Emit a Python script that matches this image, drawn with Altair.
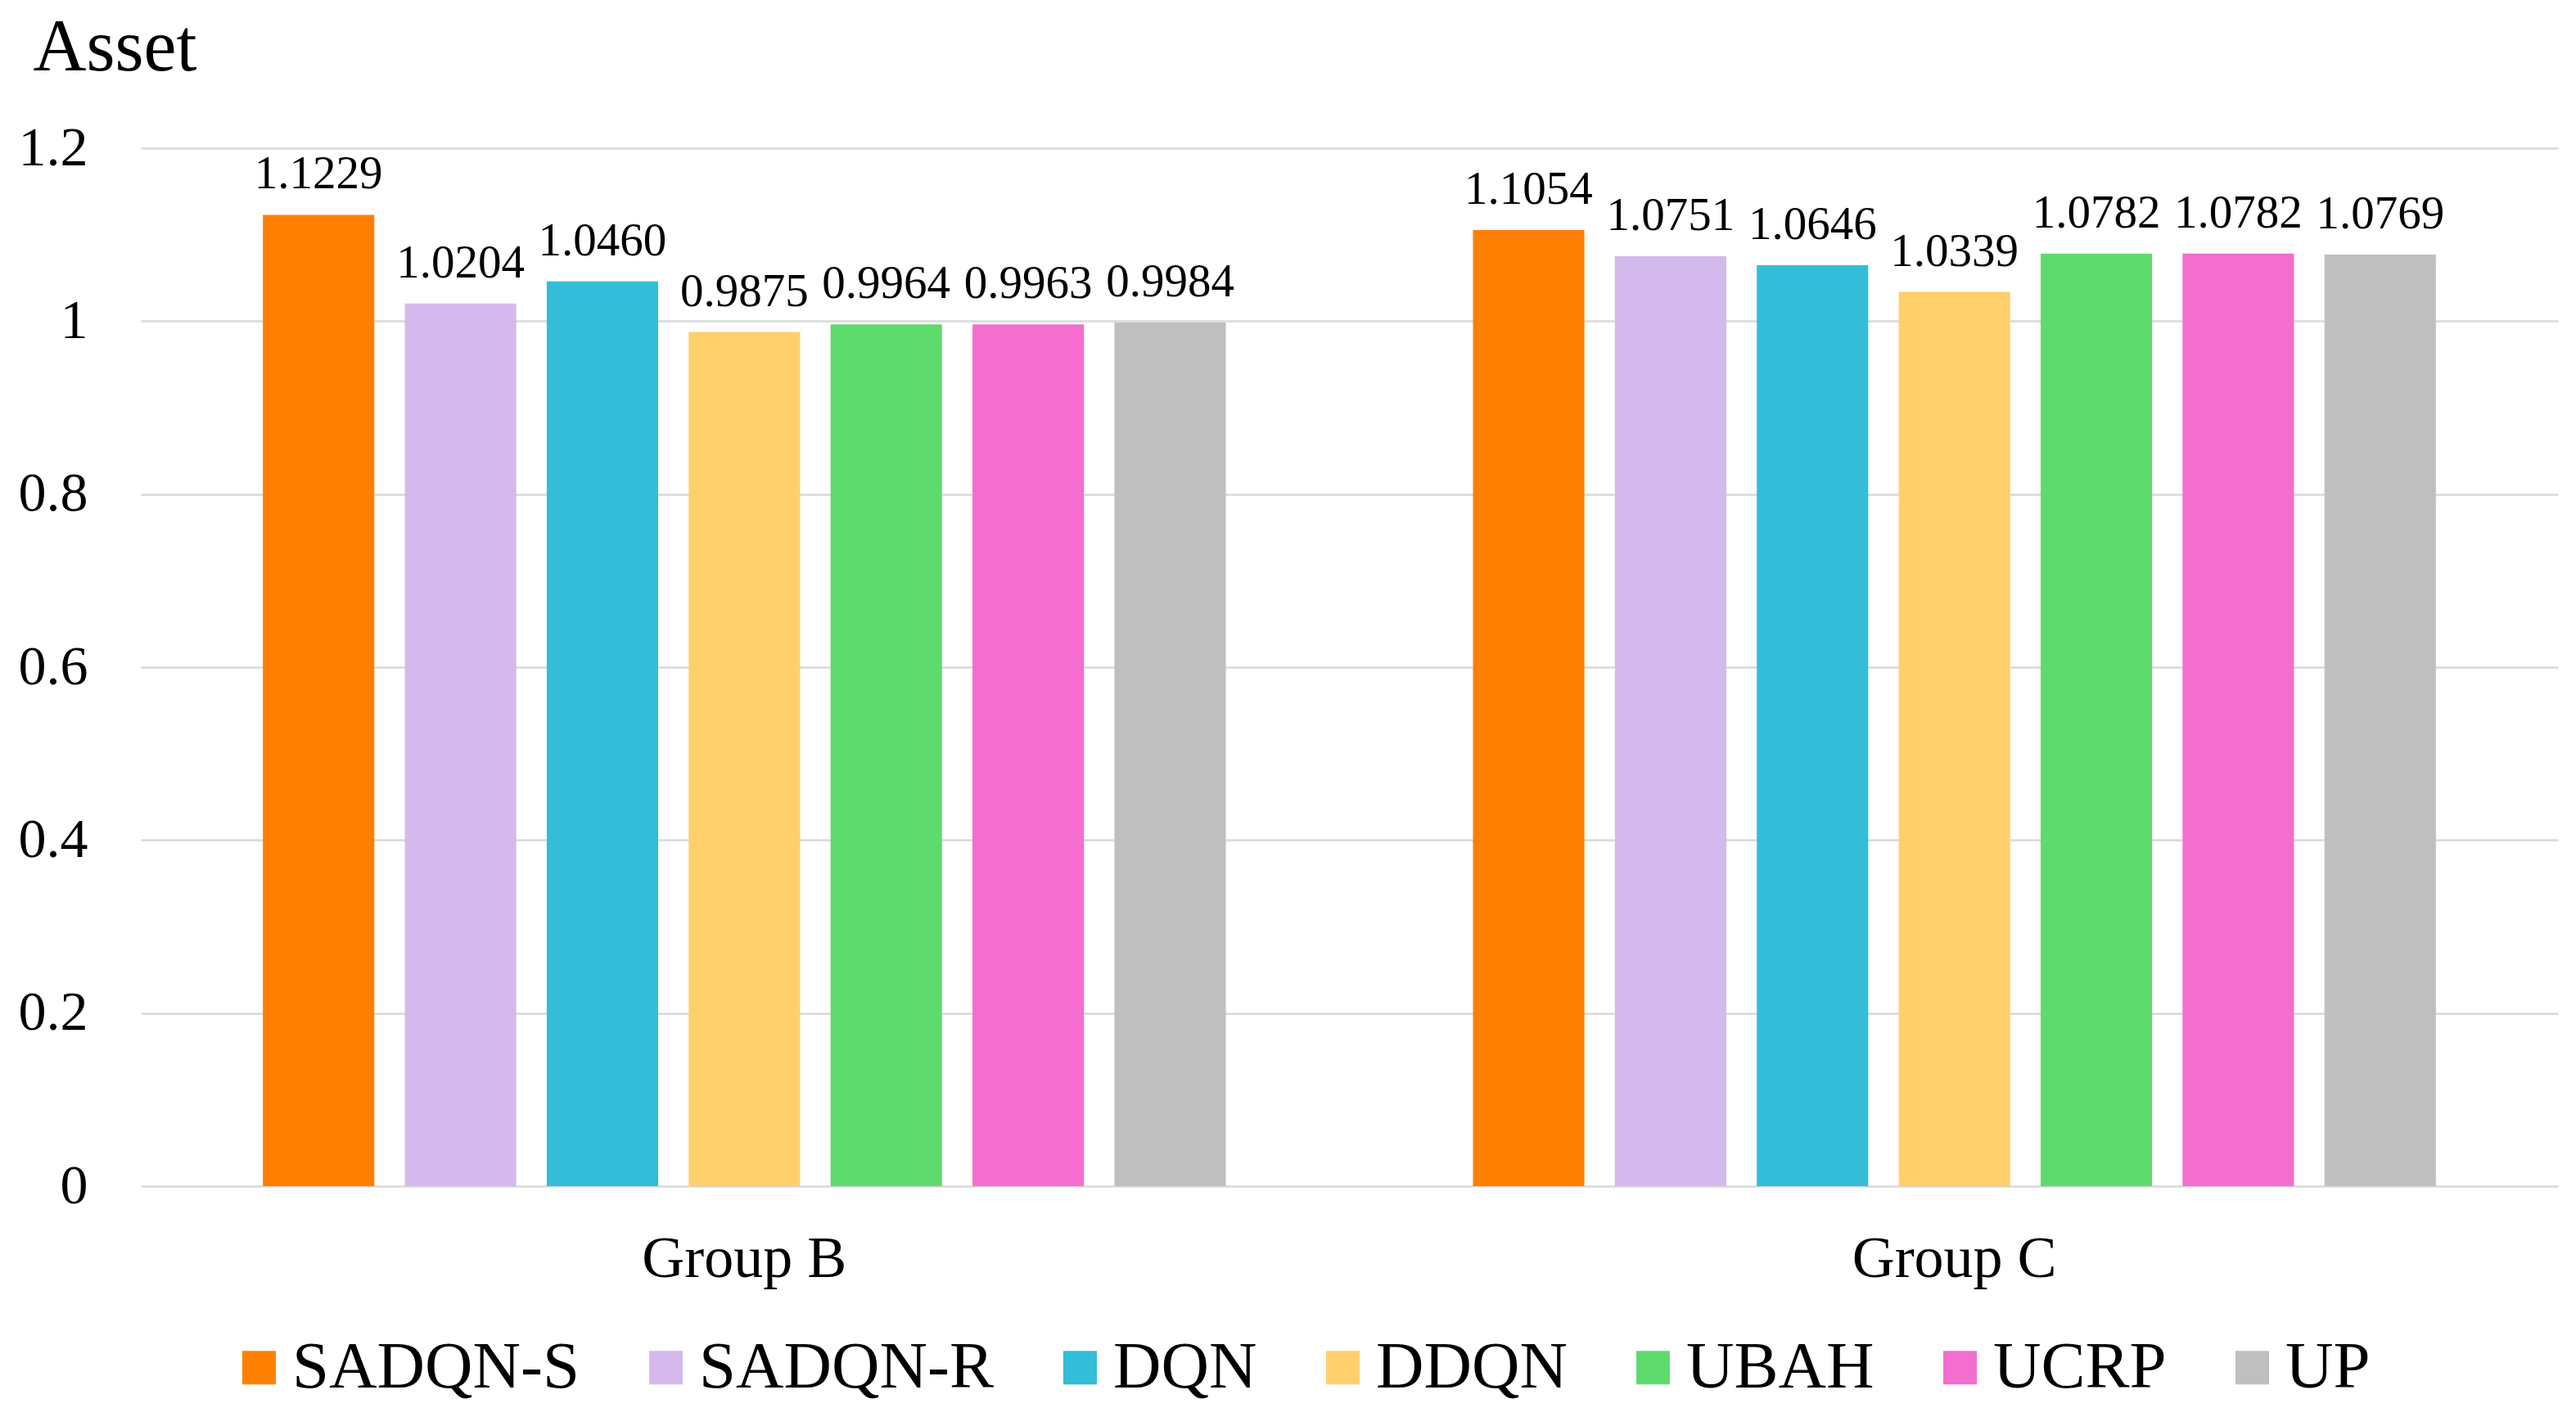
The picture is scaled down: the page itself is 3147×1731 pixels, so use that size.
import altair as alt
import pandas as pd

groups = ["Group B", "Group C"]
methods = ["SADQN-S", "SADQN-R", "DQN", "DDQN", "UBAH", "UCRP", "UP"]
group_b = [1.1229, 1.0204, 1.0460, 0.9875, 0.9964, 0.9963, 0.9984]
group_c = [1.1054, 1.0751, 1.0646, 1.0339, 1.0782, 1.0782, 1.0769]
colors = ["#FF8000", "#D3B9EC", "#33BDD8", "#FFCF6B", "#5FDB6D", "#F46ECF", "#BFBFBF"]
y_ticks = [0, 0.2, 0.4, 0.6, 0.8, 1.0, 1.2]

rows = []
for g, vals in zip(groups, [group_b, group_c]):
    for m, v in zip(methods, vals):
        rows.append({"group": g, "method": m, "value": v})
df = pd.DataFrame(rows)

FONT = "Liberation Serif"

base = alt.Chart(df).encode(
    x=alt.X(
        "group:N",
        sort=groups,
        scale=alt.Scale(paddingInner=0.179, paddingOuter=0.0883),
        axis=alt.Axis(
            title=None, labelAngle=0, domain=False, ticks=False, tickSize=0, grid=False,
            labelFont=FONT, labelFontSize=72, labelColor="black", labelPadding=53,
            labelLimit=2000,
        ),
    ),
    xOffset=alt.XOffset(
        "method:N", sort=methods,
        scale=alt.Scale(paddingInner=0.215, paddingOuter=0.1075),
    ),
    y=alt.Y(
        "value:Q",
        scale=alt.Scale(domain=[0, 1.2], nice=False, zero=True),
        axis=alt.Axis(
            values=y_ticks, format="~g", domain=False, ticks=False, tickSize=0,
            grid=True, gridColor="#D9D9D9", gridWidth=2.5,
            labelFont=FONT, labelFontSize=68, labelColor="black", labelPadding=65,
            title="Asset", titleAngle=0, titleAlign="left", titleBaseline="alphabetic",
            titleX=-132, titleY=-96, titleFont=FONT, titleFontSize=90,
            titleFontWeight="normal", titleColor="black",
        ),
    ),
)

bars = base.mark_bar().encode(
    color=alt.Color(
        "method:N", sort=methods,
        scale=alt.Scale(domain=methods, range=colors),
        legend=alt.Legend(
            title=None, orient="none", direction="horizontal",
            legendX=104, legendY=1449, padding=0,
            symbolType="square", symbolSize=1681, symbolStrokeWidth=0,
            labelFont=FONT, labelFontSize=81, labelColor="black",
            labelOffset=0, columnPadding=64, labelLimit=1000,
        ),
    )
)

labels = base.mark_text(
    baseline="alphabetic", dy=-32, font=FONT, fontSize=57, color="black"
).encode(text=alt.Text("value:Q", format=".4f"))

chart = (
    alt.layer(bars, labels)
    .properties(
        width=2953, height=1268,
        autosize=alt.AutoSizeParams(type="none"),
        padding={"left": 164, "top": 173, "right": 14, "bottom": 274},
        background="white",
    )
    .configure_view(stroke=None)
)

chart.save("out.html", embed_options={"renderer": "svg", "actions": False})
